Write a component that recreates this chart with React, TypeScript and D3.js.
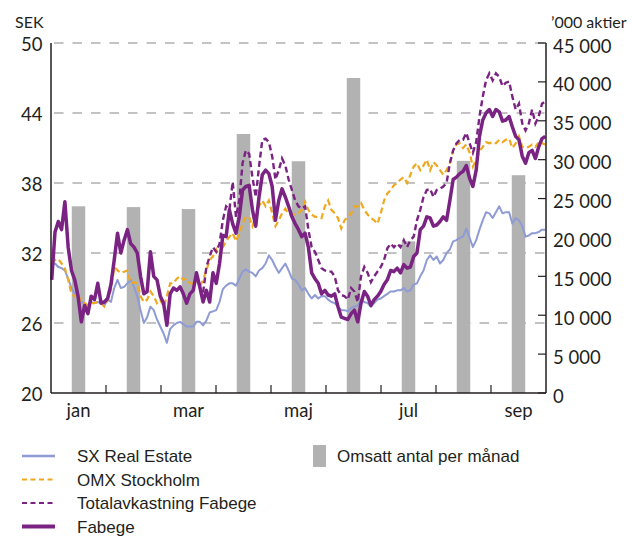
import React from "react";
import * as d3 from "d3";

// ---- data ----
const months = ["jan", "feb", "mar", "apr", "maj", "jun", "jul", "aug", "sep"];
const labelledMonths = ["jan", "mar", "maj", "jul", "sep"];
// monthly traded volume ('000 shares)
const volume = [24000, 23900, 23650, 33300, 29800, 40500, 19500, 29850, 28000];
const leftTicks = [20, 26, 32, 38, 44, 50];
const rightTicks = [0, 5000, 10000, 15000, 20000, 25000, 30000, 35000, 40000, 45000];

// observations, evenly spaced from first to last trading day (in months since 1 Jan)
const firstObs = 0.013;
const lastObs = 8.987;

const sxRealEstate = [
  31.0, 31.1, 30.8, 30.7, 30.5, 29.8, 29.0, 28.5, 28.3, 27.8, 27.7, 27.5, 27.8, 27.7, 27.8, 27.7, 27.5, 28.0, 27.8, 29.0, 29.7, 29.0, 29.1, 29.4, 29.7, 29.1, 28.3, 27.1, 26.0, 26.5,
  27.4, 27.1, 26.3, 25.7, 25.1, 24.3, 25.5, 25.8, 26.0, 26.1, 25.9, 25.7, 25.7, 25.7, 26.1, 26.1, 25.8, 26.2, 26.9, 27.0, 27.1, 27.8, 28.9, 29.2, 29.4, 29.4, 29.2, 29.8, 30.4, 30.6,
  30.4, 30.3, 30.0, 30.5, 30.7, 31.1, 31.8, 31.4, 30.8, 30.3, 30.7, 31.1, 30.5, 29.8, 29.7, 29.3, 28.8, 29.0, 28.5, 28.1, 28.4, 28.1, 28.3, 28.3, 28.0, 27.8, 27.7, 27.4, 27.1, 27.1,
  27.0, 27.3, 27.4, 27.5, 28.0, 27.8, 27.7, 27.4, 27.7, 28.0, 28.1, 28.3, 28.5, 28.7, 28.7, 28.8, 28.8, 29.0, 28.7, 28.8, 29.3, 29.4, 30.0, 30.5, 31.4, 31.8, 31.4, 31.7, 31.1, 31.4,
  32.0, 32.3, 33.0, 33.1, 33.3, 33.4, 34.1, 33.3, 32.5, 33.1, 34.0, 34.8, 35.5, 35.4, 35.0, 35.5, 36.0, 35.4, 35.5, 35.5, 34.5, 35.0, 34.8, 34.3, 33.4, 33.5, 33.7, 33.7, 33.8, 34.0, 34.0,
];

const omxStockholm = [
  31.1, 31.4, 31.5, 31.1, 30.7, 29.7, 28.5, 28.3, 28.5, 27.7, 27.7, 27.5, 27.7, 27.7, 27.8, 27.7, 27.4, 28.0, 28.8, 30.8, 30.5, 30.3, 30.4, 30.5, 29.4, 29.5, 29.4, 28.3, 27.8, 28.0,
  28.7, 28.3, 27.7, 28.0, 27.4, 28.3, 29.4, 29.4, 29.8, 30.0, 29.7, 29.8, 29.4, 29.4, 29.7, 29.1, 29.7, 30.5, 31.4, 31.7, 32.3, 31.7, 32.5, 33.0, 33.4, 33.7, 33.0, 33.7, 34.5, 35.1,
  35.1, 34.3, 35.1, 36.0, 36.5, 36.0, 36.5, 35.4, 34.3, 34.8, 35.4, 35.8, 35.3, 35.3, 35.3, 35.4, 35.7, 36.4, 35.7, 35.3, 35.1, 35.1, 35.0, 36.0, 36.5, 35.7, 35.4, 35.0, 34.1, 34.8,
  35.1, 35.4, 36.0, 36.0, 36.3, 35.7, 35.3, 35.0, 34.8, 34.5, 35.4, 36.5, 37.1, 37.4, 37.8, 38.0, 38.3, 38.5, 38.0, 38.7, 39.4, 39.7, 39.1, 39.5, 40.0, 39.1, 39.8, 39.5, 39.1, 38.7,
  39.1, 39.7, 40.8, 41.3, 41.4, 41.0, 41.3, 40.6, 39.4, 40.0, 40.7, 41.1, 41.5, 41.4, 41.5, 41.4, 41.7, 41.5, 41.7, 41.8, 41.0, 41.4, 42.0, 41.1, 41.0, 41.1, 41.3, 41.1, 41.5, 41.4, 41.3,
];

const fabege = [
  29.7, 33.8, 34.7, 34.0, 36.4, 32.5, 30.5, 29.7, 28.3, 26.1, 27.5, 26.8, 28.3, 28.0, 29.4, 27.7, 27.8, 28.1, 29.3, 31.4, 33.7, 32.0, 33.1, 34.0, 32.8, 32.5, 32.0, 30.0, 28.5, 28.7,
  32.1, 30.0, 29.7, 28.3, 27.7, 25.8, 28.5, 29.0, 28.8, 29.1, 28.5, 27.7, 28.5, 28.8, 30.3, 29.1, 27.8, 28.8, 27.8, 30.3, 29.4, 31.1, 33.5, 33.4, 35.7, 34.5, 33.7, 35.1, 37.4, 37.7,
  37.8, 35.7, 34.3, 36.8, 38.7, 39.1, 38.8, 37.7, 34.8, 36.5, 37.5, 36.8, 36.0, 35.1, 34.5, 34.0, 33.4, 33.7, 32.5, 30.3, 29.8, 29.4, 28.5, 28.8, 28.4, 28.3, 28.5, 27.4, 26.5, 26.4,
  26.3, 26.8, 27.1, 26.1, 27.7, 28.7, 28.3, 27.5, 28.0, 28.3, 28.7, 29.3, 29.7, 30.5, 30.4, 30.7, 30.3, 31.0, 30.7, 30.8, 31.7, 32.0, 34.0, 34.3, 35.1, 35.0, 34.3, 34.4, 34.7, 35.1,
  34.8, 36.5, 38.3, 38.5, 38.8, 39.0, 39.5, 38.4, 37.7, 39.1, 42.0, 43.4, 44.0, 44.3, 43.7, 44.3, 44.1, 43.3, 43.4, 43.7, 42.8, 42.0, 41.7, 40.3, 39.7, 40.6, 40.8, 40.1, 41.1, 41.8, 42.0,
];

// total return diverges from the share price from observation 46 onward
const totalReturnStart = 46;
const totalReturn = [
  28.6, 30.8, 31.7, 32.5, 32.1, 32.8, 34.8, 36.0, 35.7, 38.1, 35.1, 36.5, 39.7, 40.8,
  40.5, 38.5, 36.8, 39.4, 41.7, 41.8, 41.5, 40.3, 38.3, 39.1, 40.1, 39.5, 38.3, 37.4, 36.5, 36.0, 35.8, 36.0, 34.0, 32.5, 32.1, 31.4, 30.7, 30.5, 30.4, 30.4, 30.0, 28.8, 28.4, 28.3,
  28.0, 29.0, 28.7, 27.8, 30.0, 30.8, 30.3, 29.5, 30.0, 30.4, 30.8, 31.4, 32.4, 32.8, 32.5, 32.8, 32.5, 33.1, 32.5, 33.1, 33.4, 34.8, 35.7, 36.8, 37.4, 37.5, 36.8, 37.4, 37.5, 37.7,
  38.0, 39.7, 40.8, 41.4, 41.7, 41.7, 42.3, 41.4, 40.6, 41.5, 43.7, 45.4, 46.8, 47.4, 46.8, 47.4, 47.1, 46.3, 46.6, 46.7, 45.4, 44.3, 44.8, 43.1, 42.5, 43.1, 44.3, 43.1, 43.7, 44.8, 45.0,
];

// ---- styling ----
const W = 632;
const H = 537;
const PL = 51, PR = 546, PT = 43, PB = 393;
const C_SX = "#8e9bd5";
const C_OMX = "#f0a81e";
const C_PURPLE = "#7a2383";
const C_BAR = "#b2b2b2";
const C_GRID = "#b0b0b0";
const C_TEXT = "#231f20";
const TICK_FONT = "Lato, 'Open Sans', sans-serif";
const LEG_FONT = "'Liberation Sans', Arial, sans-serif";

const spaceFmt = d3.formatLocale({ thousands: "\u00a0", grouping: [3], decimal: ",", currency: ["", ""] }).format(",");

export default function App() {
  const x = d3.scaleLinear().domain([0, 9]).range([PL, PR]);
  const xb = d3.scaleBand().domain(months).range([PL, PR]).paddingInner(0.755).paddingOuter(0.3775);
  const yL = d3.scaleLinear().domain([20, 50]).range([PB, PT]);
  const yR = d3.scaleLinear().domain([0, 45000]).range([PB, PT]);
  const N = fabege.length;
  const tAt = (i: number) => firstObs + (i * (lastObs - firstObs)) / (N - 1);
  const mk = (vals: number[], offset: number) =>
    d3.line<number>().x((_, i) => x(tAt(i + offset))).y((d) => yL(d)).curve(d3.curveLinear)(vals) || "";

  const legendRows = [
    { label: "SX Real Estate", color: C_SX, w: 2.5, dash: undefined as string | undefined },
    { label: "OMX Stockholm", color: C_OMX, w: 2.2, dash: "5 3.5" },
    { label: "Totalavkastning Fabege", color: C_PURPLE, w: 2.2, dash: "5 3.5" },
    { label: "Fabege", color: C_PURPLE, w: 4, dash: undefined },
  ];
  const rowY = (i: number) => 456 + i * 23.5;

  return (
    <svg width={W} height={H} style={{ position: "absolute", left: 0, top: 0, background: "#fff" }}>
      {/* gridlines */}
      {leftTicks.filter((t) => t > 20).map((t) => (
        <line key={"g" + t} x1={PL} x2={PR} y1={yL(t)} y2={yL(t)} stroke={C_GRID} strokeWidth={1.4} strokeDasharray="9.5 9" strokeDashoffset={-3} />
      ))}
      {/* bars */}
      {volume.map((v, i) => (
        <rect key={"b" + i} x={xb(months[i])} y={yR(v)} width={xb.bandwidth()} height={yR(0) - yR(v)} fill={C_BAR} />
      ))}
      {/* series */}
      <path d={mk(sxRealEstate, 0)} fill="none" stroke={C_SX} strokeWidth={2} strokeLinejoin="round" />
      <path d={mk(omxStockholm, 0)} fill="none" stroke={C_OMX} strokeWidth={2.2} strokeDasharray="6 3.5" />
      <path d={mk(totalReturn, totalReturnStart)} fill="none" stroke={C_PURPLE} strokeWidth={2.4} strokeDasharray="6 3.5" />
      <path d={mk(fabege, 0)} fill="none" stroke={C_PURPLE} strokeWidth={3.5} strokeLinejoin="round" />

      {/* axes */}
      <line x1={PL} x2={PL} y1={PT} y2={PB} stroke={C_TEXT} strokeWidth={1.5} />
      <line x1={PR} x2={PR} y1={PT} y2={PB} stroke={C_TEXT} strokeWidth={1.5} />
      <line x1={PL} x2={PR} y1={PB} y2={PB} stroke={C_TEXT} strokeWidth={1.5} />
      {d3.range(1, 9).map((m) => (
        <line key={"xt" + m} x1={x(m)} x2={x(m)} y1={PB} y2={PB - 8} stroke={C_TEXT} strokeWidth={1.2} />
      ))}
      {rightTicks.map((t) => (
        <line key={"rt" + t} x1={PR - 8} x2={PR} y1={yR(t)} y2={yR(t)} stroke={C_TEXT} strokeWidth={1.2} />
      ))}

      {/* tick labels */}
      <g fontFamily={TICK_FONT} fontSize={18.5} fill={C_TEXT}>
        {leftTicks.map((t) => (
          <text key={"lt" + t} x={42.5} y={yL(t) + 7.5} textAnchor="end">{t}</text>
        ))}
        {rightTicks.map((t) => (
          <text key={"rl" + t} x={553} y={yR(t) + 9.5} textAnchor="start">{spaceFmt(t)}</text>
        ))}
        {labelledMonths.map((m) => (
          <text key={"ml" + m} x={(xb(m) as number) + xb.bandwidth() / 2} y={417} textAnchor="middle">{m}</text>
        ))}
      </g>
      <text x={15} y={28} fontFamily={TICK_FONT} fontSize={16} fill={C_TEXT}>SEK</text>
      <text x={551} y={28} fontFamily={TICK_FONT} fontSize={16} fill={C_TEXT}>{"\u2019000 aktier"}</text>

      {/* legend */}
      <g fontFamily={LEG_FONT} fontSize={17} fill={C_TEXT}>
        {legendRows.map((r, i) => (
          <g key={"lg" + i}>
            <line x1={22} x2={55} y1={rowY(i)} y2={rowY(i)} stroke={r.color} strokeWidth={r.w} strokeDasharray={r.dash} />
            <text x={77} y={rowY(i) + 6}>{r.label}</text>
          </g>
        ))}
        <rect x={313} y={445} width={13} height={22} fill={C_BAR} />
        <text x={337} y={462}>Omsatt antal per månad</text>
      </g>
    </svg>
  );
}
